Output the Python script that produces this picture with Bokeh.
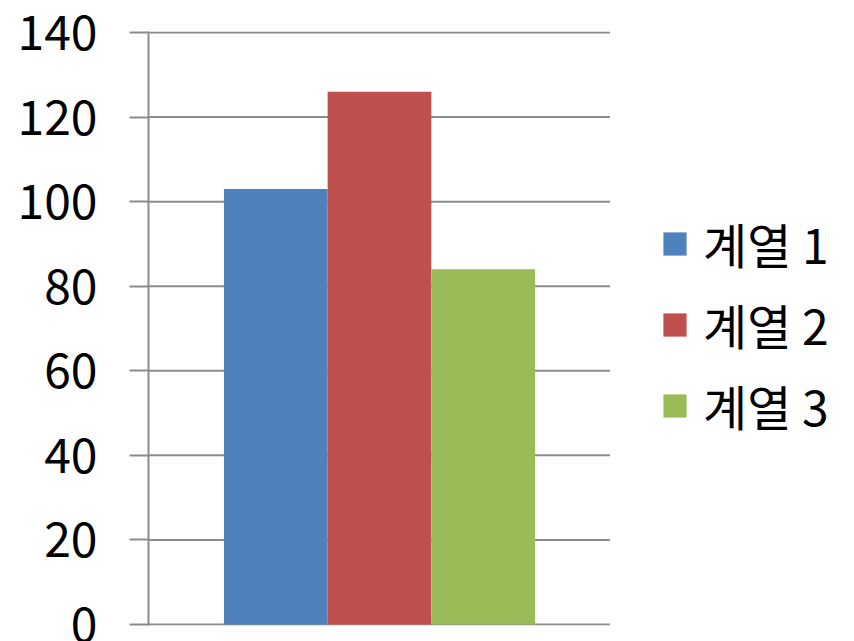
from bokeh.plotting import figure
from bokeh.models import FactorRange, Range1d, FixedTicker, Legend, LegendItem, ColumnDataSource, Span
from bokeh.layouts import row
from bokeh.embed import file_html
from bokeh.resources import INLINE

series = ["계열 1", "계열 2", "계열 3"]
values = [103, 126, 84]
colors = ["#4F81BD", "#C0504D", "#9BBB59"]
y_ticks = [0, 20, 40, 60, 80, 100, 120, 140]

FONT = "Noto Sans CJK KR"
GRID = "#8c8c8c"

p = figure(width=610, height=641, output_backend="svg", toolbar_location=None,
           x_range=FactorRange(*series, range_padding=0.485, range_padding_units="percent"),
           y_range=Range1d(-0.24, 140.24))
p.min_border_left = 148
p.min_border_top = 31
p.min_border_bottom = 16
p.min_border_right = 0
p.outline_line_color = None
p.background_fill_color = "white"

for t in y_ticks:
    p.add_layout(Span(location=t, dimension="width", line_color=GRID, line_width=2, level="underlay"))

src = ColumnDataSource(dict(x=series, top=values, color=colors))
r = p.vbar(x="x", top="top", width=1.0, color="color", line_color=None, source=src)

p.xaxis.visible = False
p.xgrid.visible = False
p.ygrid.visible = False
p.yaxis.ticker = FixedTicker(ticks=y_ticks)
p.yaxis.minor_tick_line_color = None
p.yaxis.major_tick_in = 0
p.yaxis.major_tick_out = 19
p.yaxis.major_tick_line_color = GRID
p.yaxis.major_tick_line_width = 2
p.yaxis.axis_line_color = GRID
p.yaxis.axis_line_width = 2
p.yaxis.major_label_standoff = 32
p.yaxis.major_label_text_font = FONT
p.yaxis.major_label_text_font_size = "48px"
p.yaxis.major_label_text_color = "black"

# legend panel
q = figure(width=244, height=641, output_backend="svg", toolbar_location=None,
           x_range=Range1d(0, 1), y_range=Range1d(0, 1))
q.min_border = 0
q.outline_line_color = None
q.axis.visible = False
q.grid.visible = False
hidden = ColumnDataSource(dict(x=[10], top=[10]))
rs = [q.vbar(x="x", top="top", width=0.1, color=c, line_color=None, source=hidden) for c in colors]
items = [LegendItem(label=s, renderers=[rr]) for s, rr in zip(series, rs)]
legend = Legend(items=items, location=(50, 185), orientation="vertical")
legend.margin = 0
legend.padding = 0
legend.border_line_color = None
legend.background_fill_alpha = 0
legend.glyph_width = 29
legend.glyph_height = 29
legend.label_standoff = 14
legend.label_text_font = FONT
legend.label_text_font_size = "48px"
legend.label_text_color = "black"
legend.label_height = 29
legend.spacing = 11
q.add_layout(legend, "center")

open("out.html", "w").write(file_html(row(p, q), INLINE))
